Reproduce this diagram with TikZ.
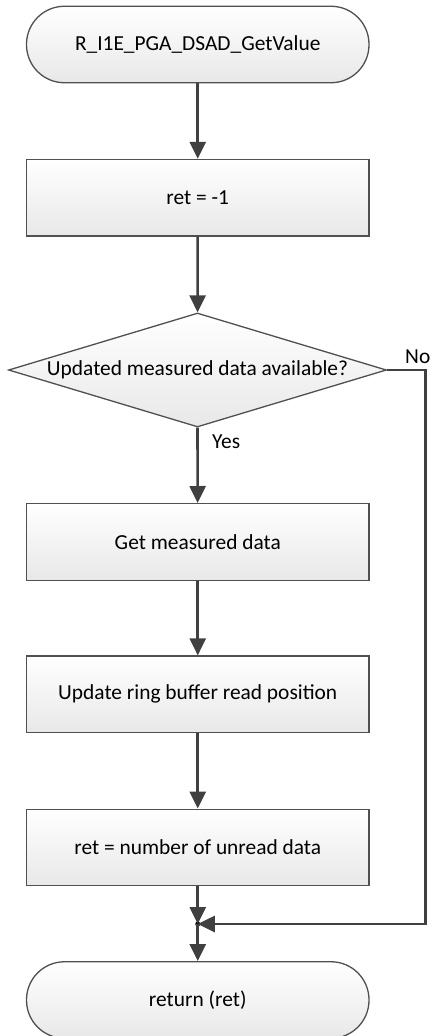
\documentclass[tikz,border=0pt]{standalone}
\usepackage{fontspec}
\setmainfont{Carlito}
\usetikzlibrary{shapes.geometric,arrows.meta}
\definecolor{lineC}{HTML}{404040}
\definecolor{edgeC}{HTML}{505050}
\definecolor{fillB}{HTML}{E8E8E8}
\begin{document}
\begin{tikzpicture}[x=1pt,y=-1pt,
  txt/.style={font=\fontsize{21.4}{25}\selectfont, text=black},
  procbox/.style={txt, draw=edgeC, line width=1.3pt, top color=white, bottom color=fillB,
    minimum width=342.5pt, minimum height=76.5pt, inner sep=0pt},
  termbox/.style={procbox, rounded corners=38pt},
  decbox/.style={draw=edgeC, line width=1.3pt, top color=white, bottom color=fillB,
    diamond, minimum width=378pt, minimum height=114pt, inner sep=0pt},
  conn/.style={draw=lineC, line width=2.6pt, -{Triangle[length=17pt,width=16pt]}},
  plain/.style={draw=lineC, line width=2.6pt},
  lbl/.style={font=\fontsize{21.4}{25}\selectfont, text=black, inner sep=0pt}
]
\useasboundingbox (0,0) rectangle (432,1036);
\node[termbox] (start) at (197.75,44.5) {R\_I1E\_PGA\_DSAD\_GetValue};
\node[procbox] (init) at (197.75,197.7) {ret = -1};
\node[decbox, label={[txt]center:Updated measured data available?}] (dec) at (197.5,370) {};
\node[procbox] (get) at (197.75,541.9) {Get measured data};
\node[procbox] (upd) at (197.75,694.3) {Update ring buffer read position};
\node[procbox] (cnt) at (197.75,847.5) {ret = number of unread data};
\node[termbox] (ret) at (197.75,1000) {return (ret)};
\node[circle, fill=black, inner sep=0pt, minimum size=5pt] (jn) at (197.75,924) {};
\coordinate (c1) at (425.5,370);
\coordinate (c2) at (425.5,924);
\draw[conn] (start) -- (init);
\draw[conn] (init) -- (dec);
\draw[conn] (dec.south) -- (get);
\draw[conn] (get) -- (upd);
\draw[conn] (upd) -- (cnt);
\draw[conn] (cnt) -- (jn.center);
\draw[conn] (jn.center) -- (ret);
\draw[conn] (dec.east) -- (c1) -- (c2) -- (jn.center);
\node[lbl, anchor=west] (yes) at (212,442) {Yes};
\node[lbl, anchor=west] (no) at (405,357) {No};
\end{tikzpicture}
\end{document}
